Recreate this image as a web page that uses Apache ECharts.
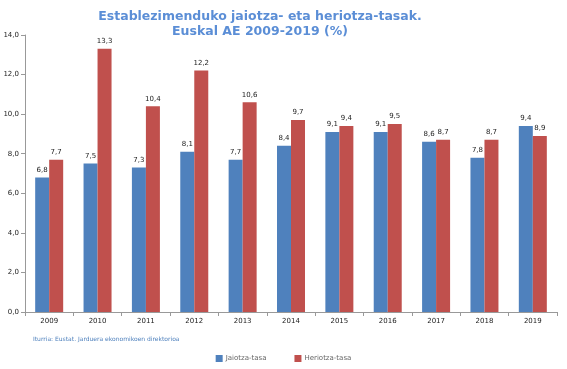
<!DOCTYPE html>
<html><head><meta charset="utf-8">
<script src="https://cdn.jsdelivr.net/npm/echarts@6/dist/echarts.min.js"></script>
<style>html,body{margin:0;padding:0;background:#fff}#c{width:567px;height:369px}</style>
</head><body><div id="c"></div>
<script>
const years = ['2009','2010','2011','2012','2013','2014','2015','2016','2017','2018','2019'];
const jaiotza = [6.8,7.5,7.3,8.1,7.7,8.4,9.1,9.1,8.6,7.8,9.4];
const heriotza = [7.7,13.3,10.4,12.2,10.6,9.7,9.4,9.5,8.7,8.7,8.9];
const seriesNames = ['Jaiotza-tasa','Heriotza-tasa'];
const fmt = v => v.toFixed(1).replace('.', ',');
const chart = echarts.init(document.getElementById('c'));
const lbl = {show:true, position:'top', distance:4, fontSize:7, color:'#222', fontFamily:'DejaVu Sans', formatter:p=>fmt(p.value)};
chart.setOption({
  animation:false,
  title:{text:'Establezimenduko jaiotza- eta heriotza-tasak.\nEuskal AE 2009-2019 (%)', left:255, textAlign:'center', top:4,
    textStyle:{color:'#5B8ED6', fontSize:12.5, fontWeight:'bold', fontFamily:'DejaVu Sans', lineHeight:15}},
  graphic:[{type:'text', left:33, top:336, style:{text:'Iturria: Eustat. Jarduera ekonomikoen direktorioa', fill:'#4F81BD', fontSize:6, fontFamily:'DejaVu Sans'}}],
  legend:{data:seriesNames, left:'center', top:350, itemWidth:7, itemHeight:7, itemGap:28, icon:'rect',
    textStyle:{fontSize:7, color:'#666', fontFamily:'DejaVu Sans', padding:[0,0,0,-2]}},
  grid:{left:25, right:10, top:35, bottom:57, containLabel:false},
  xAxis:{type:'category', data:years, axisLine:{lineStyle:{color:'#999'}}, axisTick:{show:true, length:4, lineStyle:{color:'#999'}},
    axisLabel:{fontSize:7, color:'#222', fontFamily:'DejaVu Sans', margin:6}},
  yAxis:{type:'value', min:0, max:14, interval:2, axisLine:{show:true, lineStyle:{color:'#999'}}, axisTick:{show:true, length:4, lineStyle:{color:'#999'}},
    splitLine:{show:false}, axisLabel:{fontSize:7, color:'#222', fontFamily:'DejaVu Sans', margin:6, formatter:v=>fmt(v)}},
  series:[
    {name:seriesNames[0], type:'bar', data:jaiotza, barWidth:14, barGap:'0%', itemStyle:{color:'#4F81BD'}, label:lbl},
    {name:seriesNames[1], type:'bar', data:heriotza, barWidth:14, itemStyle:{color:'#C0504D'}, label:lbl}
  ]
});
</script></body></html>
